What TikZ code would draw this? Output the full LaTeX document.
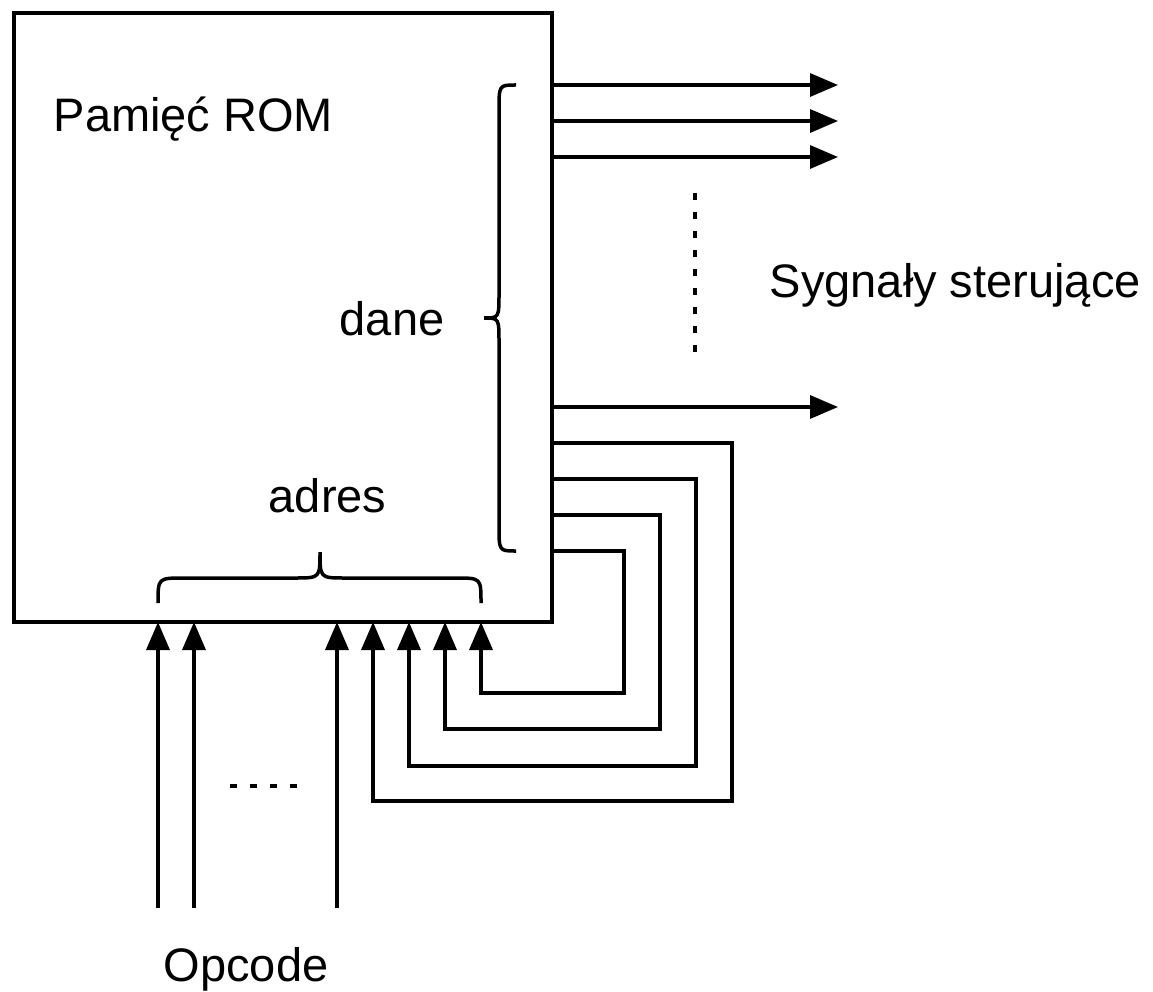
\documentclass[tikz,border=0pt]{standalone}
\usepackage{fontspec}
\setmainfont{Liberation Sans}
\usetikzlibrary{arrows.meta}
\begin{document}
\begin{tikzpicture}[x=1pt,y=-1pt,line width=3.5pt,
  arr/.style={-{Triangle[length=28pt,width=23pt]}},
  lbl/.style={anchor=base west,inner sep=0pt,font=\fontsize{47}{56}\selectfont},
  dotline/.style={dash pattern=on 7pt off 12pt}]
\useasboundingbox (0,0) rectangle (1153,992);
\node[draw,inner sep=0pt,outer sep=0pt,minimum width=538pt,minimum height=609pt] (rom) at (283,317.5) {};
\node[lbl] (title) at (52,132) {Pamięć ROM};
\node[lbl] (dane) at (338,335) {dane};
\node[lbl] (adres) at (267,512) {adres};
\node[lbl] (sig) at (768,298) {Sygnały sterujące};
\node[lbl] (opc) at (162,981) {Opcode};
% braces
\draw (516,85) .. controls (499,85) .. (499,110) -- (499,293) .. controls (499,318) .. (484,318)
  .. controls (499,318) .. (499,343) -- (499,526) .. controls (499,551) .. (516,551);
\draw (158,603) .. controls (158,578) .. (184,578) -- (295,578) .. controls (320,578) .. (320,552)
  .. controls (320,578) .. (345,578) -- (456,578) .. controls (481,578) .. (481,603);
% outputs
\foreach \y/\n in {85/a,121/b,157/c,407/d}{
  \coordinate (o\n) at (838,\y);
  \draw[arr] (rom.east |- o\n) -- (o\n);
}
\coordinate (dt) at (695,193);
\coordinate (db) at (695,360);
\draw[dotline] (dt) -- (db);
% opcode inputs
\foreach \x/\n in {158/a,194/b,337/c}{
  \coordinate (i\n) at (\x,908);
  \draw[arr] (i\n) -- (i\n |- rom.south);
}
\coordinate (hl) at (230,786);
\coordinate (hr) at (298,786);
\draw[dash pattern=on 7pt off 13pt] (hl) -- (hr);
% feedback
\foreach \y/\xr/\yb/\xl in {443/732/801/373,479/696/766/409,515/660/729/445,551/624/693/481}{
  \draw[arr] (rom.east |- 0,\y) -- (\xr,\y) -- (\xr,\yb) -- (\xl,\yb) -- (\xl,0 |- rom.south);
}
\end{tikzpicture}
\end{document}
